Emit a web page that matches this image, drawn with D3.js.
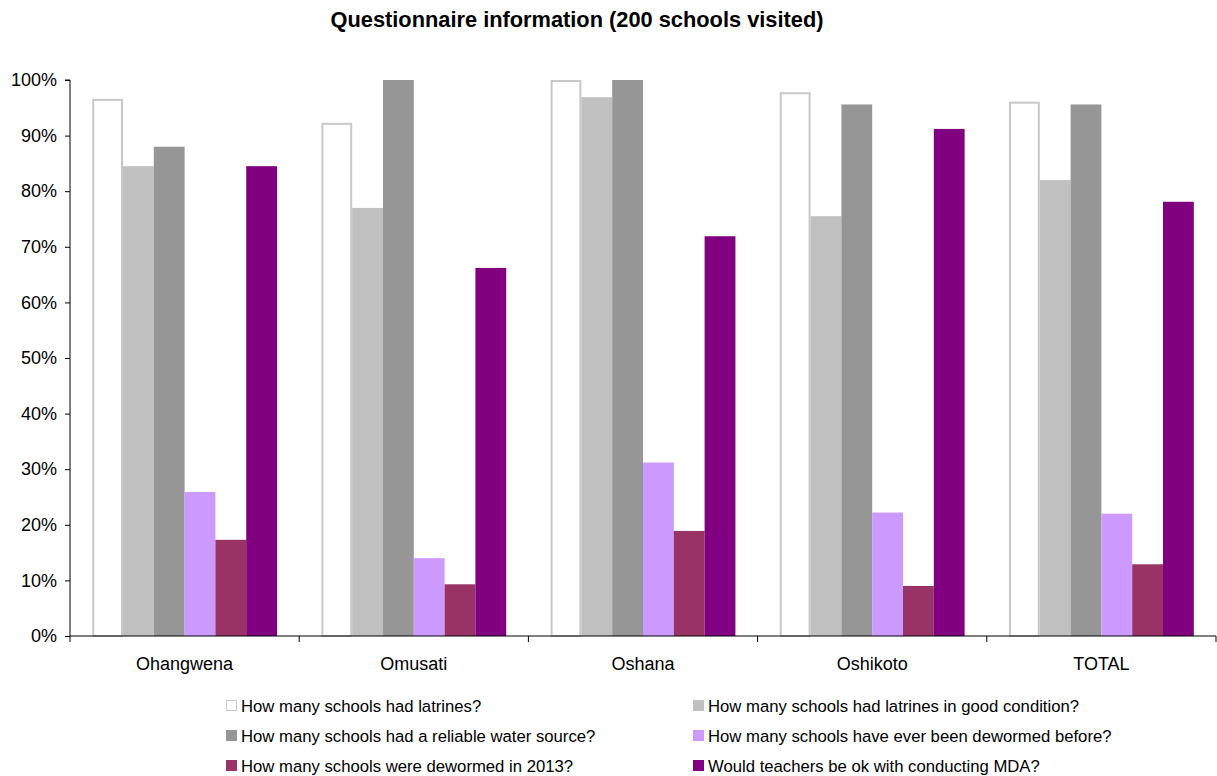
<!DOCTYPE html>
<html>
<head>
<meta charset="utf-8">
<script src="https://cdn.jsdelivr.net/npm/d3@7"></script>
<style>
  body { margin: 0; background: #fff; }
  svg { display: block; font-family: "Liberation Sans", Arial, sans-serif; }
</style>
</head>
<body>
<svg id="chart" width="1217" height="776"></svg>
<script>
// Regions surveyed
const regions = ["Ohangwena", "Omusati", "Oshana", "Oshikoto", "TOTAL"];

// Questions (series)
const questions = [
  "How many schools had latrines?",
  "How many schools had latrines in good condition?",
  "How many schools had a reliable water source?",
  "How many schools have ever been dewormed before?",
  "How many schools were dewormed in 2013?",
  "Would teachers be ok with conducting MDA?"
];

// Share of schools (%) per question, one value per region
const hadLatrines      = [96.6, 92.3, 100.0, 97.8, 96.1];
const latrinesGood     = [84.5, 77.0, 96.9, 75.5, 82.0];
const reliableWater    = [88.0, 100.0, 100.0, 95.6, 95.6];
const dewormedBefore   = [25.9, 14.0, 31.2, 22.2, 22.0];
const dewormed2013     = [17.3, 9.3, 18.9, 9.0, 12.9];
const teachersOkMDA    = [84.5, 66.2, 71.9, 91.2, 78.1];

const seriesValues = [hadLatrines, latrinesGood, reliableWater, dewormedBefore, dewormed2013, teachersOkMDA];

const yTicks = [0, 10, 20, 30, 40, 50, 60, 70, 80, 90, 100];

const fills   = ["#ffffff", "#c0c0c0", "#969696", "#cc99ff", "#993366", "#800080"];
const strokes = ["#c8c8c8", null, null, null, null, null];

const svg = d3.select("#chart");

const plotLeft = 70, plotRight = 1216, plotTop = 80, plotBottom = 636;

const x0 = d3.scaleBand().domain(regions).range([plotLeft, plotRight]).paddingInner(0).paddingOuter(0);
const x1 = d3.scaleBand().domain(d3.range(questions.length))
  .range([0, x0.bandwidth()]).paddingInner(0).paddingOuter(0.72);
const y = d3.scaleLinear().domain([0, 100]).range([plotBottom, plotTop]);

// Title
svg.append("text")
  .attr("x", 577).attr("y", 27)
  .attr("text-anchor", "middle")
  .attr("font-size", 21.8).attr("font-weight", "bold")
  .attr("fill", "#000")
  .text("Questionnaire information (200 schools visited)");

// Bars
const groups = svg.append("g").selectAll("g")
  .data(regions)
  .join("g")
  .attr("transform", d => `translate(${x0(d)},0)`);

groups.selectAll("rect")
  .data((r, ri) => seriesValues.map((vals, si) => ({ si, v: vals[ri] })))
  .join("rect")
  .attr("x", d => x1(d.si) + (strokes[d.si] ? 1 : 0))
  .attr("y", d => y(d.v) + (strokes[d.si] ? 1 : 0))
  .attr("width", d => x1.bandwidth() - (strokes[d.si] ? 2 : 0))
  .attr("height", d => plotBottom - y(d.v) - (strokes[d.si] ? 1 : 0))
  .attr("fill", d => fills[d.si])
  .attr("stroke", d => strokes[d.si] || "none")
  .attr("stroke-width", 2);

// Y axis
const yAxis = d3.axisLeft(y).tickValues(yTicks).tickSize(5).tickPadding(8)
  .tickFormat(d => d + "%");
const gy = svg.append("g").attr("transform", `translate(${plotLeft},0)`).call(yAxis);
gy.select(".domain").attr("stroke", "#000").attr("d", `M-5,${plotTop}H0V${plotBottom}`);
gy.selectAll(".tick line").attr("stroke", "#000");
gy.selectAll(".tick text").attr("font-size", 18).attr("fill", "#000")
  .attr("font-family", "Liberation Sans, Arial, sans-serif");

// X axis with ticks at group boundaries
const gx = svg.append("g").attr("transform", `translate(0,${plotBottom})`);
gx.append("line").attr("x1", plotLeft).attr("x2", plotRight).attr("y1", 0).attr("y2", 0).attr("stroke", "#000");
const bounds = regions.map(r => x0(r)).concat([x0(regions[regions.length - 1]) + x0.bandwidth()]);
gx.selectAll("line.tk").data(bounds).join("line")
  .attr("class", "tk")
  .attr("x1", d => d).attr("x2", d => d).attr("y1", 0).attr("y2", 6)
  .attr("stroke", "#000");
gx.selectAll("text").data(regions).join("text")
  .attr("x", d => x0(d) + x0.bandwidth() / 2)
  .attr("y", 34)
  .attr("text-anchor", "middle")
  .attr("font-size", 18).attr("fill", "#000")
  .text(d => d);

// Legend (two columns, three rows)
const legend = svg.append("g");
const colX = [226, 693], rowY = [700, 730, 760];
questions.forEach((q, i) => {
  const cx = colX[i % 2], cy = rowY[Math.floor(i / 2)];
  legend.append("rect")
    .attr("x", cx + (strokes[i] ? 0.5 : 0)).attr("y", cy + (strokes[i] ? 0.5 : 0))
    .attr("width", strokes[i] ? 10 : 11).attr("height", strokes[i] ? 10 : 11)
    .attr("fill", fills[i])
    .attr("stroke", strokes[i] || "none").attr("stroke-width", 1);
  legend.append("text")
    .attr("x", cx + 15).attr("y", cy + 12)
    .attr("font-size", 16.7).attr("fill", "#000")
    .text(q);
});
</script>
</body>
</html>
